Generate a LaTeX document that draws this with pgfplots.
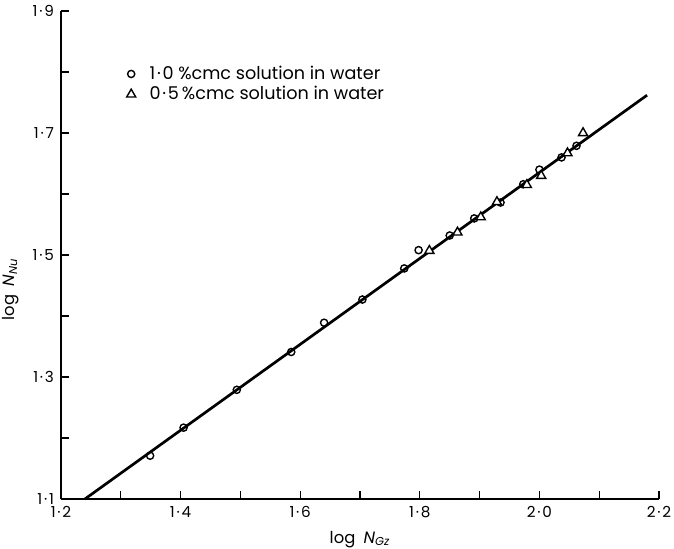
\documentclass[border=0pt]{standalone}
\usepackage{fontspec}
\setmainfont{Poppins}
\usepackage{pgfplots}
\pgfplotsset{compat=1.18}
\pgfplotsset{mylegimg/.style={legend image code/.code={\draw[##1] plot coordinates {(3pt,0pt)}; \path (0pt,0pt) (10pt,0pt);}}}
\newcommand{\cd}{\kern0.9pt·\kern0.9pt}
\begin{document}
\begin{tikzpicture}
\path[use as bounding box] (-30.5pt,-24.5pt) rectangle (306.5pt,249.5pt);
\begin{axis}[
  scale only axis, width=299pt, height=244pt,
  at={(0,0)}, anchor=south west,
  xmin=1.2, xmax=2.2, ymin=1.1, ymax=1.9,
  axis x line*=bottom, axis y line*=left,
  axis line style={line width=1pt,-},
  xtick={1.2,1.3,1.4,1.5,1.6,1.7,1.8,1.9,2.0,2.1,2.2},
  xticklabels={1\cd 2,,1\cd 4,,1\cd 6,,1\cd 8,,2\cd 0,,2\cd 2},
  ytick={1.1,1.2,1.3,1.4,1.5,1.6,1.7,1.8,1.9},
  yticklabels={1\cd 1,,1\cd 3,,1\cd 5,,1\cd 7,,1\cd 9},
  tick align=inside, major tick length=4pt,
  tick style={line width=0.6pt, black},
  ticklabel style={font=\fontsize{7.6}{8}\selectfont},
  xlabel={log\enspace\textit{N}\textsubscript{\textit{Gz}}},
  ylabel={log\enspace\textit{N}\textsubscript{\textit{Nu}}},
  ylabel style={at={(ticklabel cs:0.43)}},
  label style={font=\fontsize{8.2}{9}\selectfont},
  clip=false,
  legend cell align=left,
  legend style={draw=none, fill=none, at={(rel axis cs:0.096,0.905)}, anchor=north west,
    font=\fontsize{8.8}{9}\selectfont, row sep=-2pt},
]
\addplot[line width=1.35pt, no marks, forget plot] coordinates {(1.24,1.1) (2.18,1.762)};
\addplot[only marks, mark=o, mark size=1.8pt, mark options={fill=white, line width=0.7pt}, mylegimg] coordinates {
(1.349,1.171) (1.405,1.217) (1.494,1.279) (1.585,1.341) (1.640,1.389)
(1.704,1.427) (1.774,1.478) (1.798,1.508) (1.850,1.532) (1.891,1.560)
(1.935,1.586) (1.973,1.616) (2.000,1.640) (2.037,1.660) (2.062,1.679)
};
\addlegendentry{1\cd 0 \%cmc solution in water}
\addplot[only marks, mark=triangle*, mark size=2.6pt, mark options={fill=white, draw=black, line width=0.7pt}, mylegimg] coordinates {
(1.816,1.507) (1.863,1.537) (1.902,1.562) (1.929,1.587) (1.979,1.615)
(2.003,1.630) (2.047,1.667) (2.073,1.700)
};
\addlegendentry{0\cd 5\,\%cmc solution in water}
\end{axis}
\end{tikzpicture}
\end{document}
